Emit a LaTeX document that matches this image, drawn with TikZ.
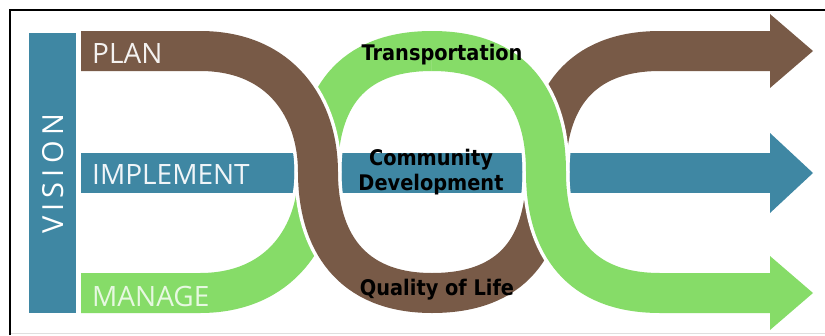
\documentclass[tikz,border=0pt]{standalone}
\usepackage{fontspec}
\setmainfont{Open Sans}
\newfontfamily\topicfont[FakeStretch=0.9]{DejaVu Sans}
\definecolor{visionblue}{HTML}{3F87A3}
\definecolor{planbrown}{HTML}{785A47}
\definecolor{managegreen}{HTML}{86DC68}
\begin{document}
\begin{tikzpicture}[x=1pt,y=-1pt]
\tikzset{
  band/.style={line width=40pt,line cap=butt},
  gapband/.style={line width=47pt,line cap=butt,draw=white},
  stage/.style={anchor=west,inner sep=0pt,font=\fontsize{28}{28}\selectfont},
  topic/.style={inner sep=0pt,align=center,text=black,
    font=\topicfont\bfseries\fontsize{21.5}{25}\selectfont}
}
\useasboundingbox (0,0) rectangle (825,335);

% frame
\draw[gray!25,line width=1pt] (10,333) -- (825,333);
\draw[black,line width=2pt] (10,335) -- (10,10) -- (825,10);

\coordinate (leftcross) at (318,172);
\coordinate (rightcross) at (546,172);

% vision bar
\fill[visionblue] (29,33) rectangle (76,313);
\node[inner sep=0pt,rotate=90,text=white,
  font=\fontsize{29}{29}\selectfont\addfontfeature{LetterSpace=18}]
  (vision) at (53,174) {VISION};

% implement arrow
\fill[visionblue] (81,153) rectangle (770,193);
\fill[visionblue] (770,133) -- (813,173) -- (770,213) -- cycle;

% green, first half (under brown)
\draw[gapband] (81,293) -- (200,293) .. controls (280,293) and (318,235) ..
  (leftcross) .. controls (318,100) and (350,51) .. (432,51);
\draw[band,managegreen] (81,293) -- (200,293) .. controls (280,293) and (318,235) ..
  (leftcross) .. controls (318,100) and (350,51) .. (432,51);

% brown, whole
\draw[gapband] (81,51) -- (200,51) .. controls (282,51) and (318,110) ..
  (leftcross) .. controls (318,240) and (350,293) .. (432,293)
  .. controls (514,293) and (546,245) .. (rightcross)
  .. controls (546,100) and (580,51) .. (660,51) -- (770,51);
\draw[band,planbrown] (81,51) -- (200,51) .. controls (282,51) and (318,110) ..
  (leftcross) .. controls (318,240) and (350,293) .. (432,293)
  .. controls (514,293) and (546,245) .. (rightcross)
  .. controls (546,100) and (580,51) .. (660,51) -- (770,51);
\fill[planbrown] (770,14) -- (813,51) -- (770,88) -- cycle;

% green, second half (over brown)
\draw[gapband] (432,51) .. controls (514,51) and (546,100) .. (rightcross)
  .. controls (546,245) and (580,293) .. (660,293) -- (770,293);
\draw[band,managegreen] (432,51) .. controls (514,51) and (546,100) .. (rightcross)
  .. controls (546,245) and (580,293) .. (660,293) -- (770,293);
\fill[managegreen] (770,256) -- (813,293) -- (770,330) -- cycle;

% labels
\node[stage,text=white!92!planbrown] (plan) at (92,53) {PLAN};
\node[stage,text=white!92!visionblue] (implement) at (92,175) {IMPLEMENT};
\node[stage,text=white!80!managegreen] (manage) at (92,296) {MANAGE};
\node[topic] (transport) at (442,55) {Transportation};
\node[topic] (community) at (431,172) {Community\\Development};
\node[topic] (quality) at (437,290) {Quality of Life};
\end{tikzpicture}
\end{document}
